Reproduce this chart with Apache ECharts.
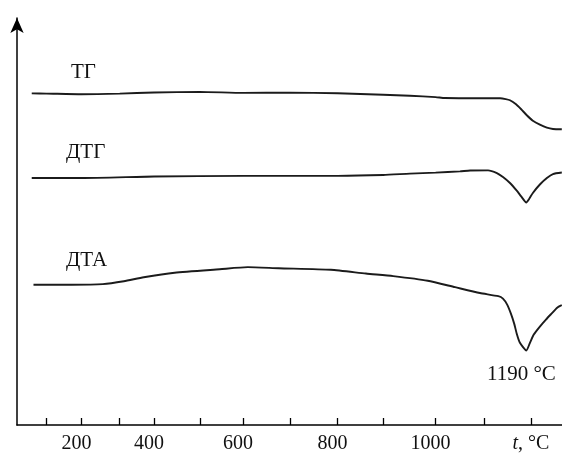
<!DOCTYPE html>
<html>
<head>
<meta charset="utf-8">
<script src="https://cdn.jsdelivr.net/npm/echarts@6/dist/echarts.min.js"></script>
<style>
  html, body { margin: 0; padding: 0; background: #fff; }
  #chart { width: 562px; height: 454px; }
</style>
</head>
<body>
<div id="chart"></div>
<script>
// Temperature axis of the original is drawn unevenly: tick temperatures and
// where each tick sits along the axis (0..100 of the axis length).
const tickTemps = [100, 200, 300, 400, 500, 600, 700, 800, 900, 1000, 1100, 1200];
const tickPos = [5.40, 11.82, 18.85, 25.15, 33.54, 41.49, 50.06, 58.82, 67.19, 76.81, 85.74, 94.31];
const labeledTemps = [200, 400, 600, 800, 1000];
const unitTemp = 1200; // "t, °C" sits on this tick

// TG curve (temperature, °C / signal, arbitrary units)
const tgTemp = [58, 100, 200, 300, 400, 500, 600, 700, 800, 900, 951, 1000, 1019, 1100, 1134, 1146, 1155, 1168, 1179, 1191, 1204, 1219, 1234, 1247, 1266];
const tgValue = [81.47, 81.43, 81.26, 81.41, 81.70, 81.85, 81.60, 81.65, 81.50, 81.14, 80.89, 80.57, 80.33, 80.28, 80.28, 80.08, 79.79, 78.81, 77.58, 76.11, 74.77, 73.79, 73.05, 72.73, 72.68];

// DTG curve
const dtgTemp = [58, 200, 400, 600, 800, 900, 951, 1000, 1050, 1071, 1108, 1127, 1140, 1155, 1170, 1179, 1190, 1196, 1204, 1219, 1234, 1247, 1266];
const dtgValue = [60.68, 60.68, 61.05, 61.22, 61.22, 61.42, 61.76, 62.00, 62.32, 62.52, 62.57, 61.91, 60.93, 59.46, 57.50, 56.15, 54.68, 55.54, 57.01, 59.09, 60.68, 61.66, 62.03];

// DTA curve
const dtaTemp = [63, 172, 256, 312, 370, 445, 546, 610, 676, 786, 862, 919, 985, 1040, 1091, 1130, 1140, 1149, 1157, 1164, 1170, 1176, 1190, 1198, 1206, 1219, 1232, 1245, 1256, 1266];
const dtaValue = [34.47, 34.47, 34.62, 35.33, 36.31, 37.41, 38.27, 38.78, 38.51, 38.14, 37.21, 36.58, 35.45, 33.86, 32.43, 31.65, 31.04, 29.57, 27.36, 24.91, 22.22, 20.26, 18.30, 20.26, 22.22, 24.18, 25.90, 27.49, 28.83, 29.45];

const curveNames = ["ТГ", "ДТГ", "ДТА"];
const peakLabel = "1190 °C";

const SERIF = "'Liberation Serif', 'DejaVu Serif', serif";
const INK = "#1b1b1b";

// piecewise mapping of temperature onto the drawn (uneven) axis
function toAxis(t) {
  let i = 0;
  if (t > tickTemps[tickTemps.length - 1]) i = tickTemps.length - 2;
  else {
    while (i < tickTemps.length - 2 && t > tickTemps[i + 1]) i++;
  }
  const k = (tickPos[i + 1] - tickPos[i]) / (tickTemps[i + 1] - tickTemps[i]);
  return tickPos[i] + (t - tickTemps[i]) * k;
}

function tempAt(pos) {
  let best = 0;
  tickPos.forEach((p, i) => { if (Math.abs(p - pos) < Math.abs(tickPos[best] - pos)) best = i; });
  return tickTemps[best];
}

function curve(temps, values) {
  return temps.map((t, i) => [toAxis(t), values[i]]);
}

const chart = echarts.init(document.getElementById("chart"));

const labelPos = labeledTemps.concat([unitTemp]).map(toAxis);

chart.setOption({
  animation: false,
  grid: { left: 17, right: 0, top: 18, bottom: 28 },
  xAxis: {
    type: "value",
    min: 0,
    max: 100,
    splitLine: { show: false },
    axisLine: { lineStyle: { color: "#000", width: 1.5 } },
    axisTick: {
      show: true,
      inside: true,
      length: 7,
      customValues: tickPos,
      lineStyle: { color: "#000", width: 1.3 }
    },
    axisLabel: {
      customValues: labelPos,
      margin: 9,
      fontFamily: SERIF,
      fontSize: 20,
      color: "#111",
      formatter: (v) => {
        const t = tempAt(v);
        if (t === unitTemp) return "{it|t}{rest|, °C}";
        return "{n|" + t + "}";
      },
      rich: {
        n: { fontFamily: SERIF, fontSize: 20, color: "#111", padding: [0, 10, 0, 0] },
        it: { fontFamily: SERIF, fontSize: 20, color: "#111", fontStyle: "italic" },
        rest: { fontFamily: SERIF, fontSize: 20, color: "#111" }
      }
    }
  },
  yAxis: {
    type: "value",
    min: 0,
    max: 100,
    splitLine: { show: false },
    axisTick: { show: false },
    axisLabel: { show: false },
    axisLine: {
      show: true,
      symbol: ["none", "arrow"],
      symbolSize: [10, 15],
      lineStyle: { color: "#000", width: 1.5 }
    }
  },
  series: [
    { name: curveNames[0], data: curve(tgTemp, tgValue) },
    { name: curveNames[1], data: curve(dtgTemp, dtgValue) },
    { name: curveNames[2], data: curve(dtaTemp, dtaValue) }
  ].map((s) => Object.assign({
    type: "line",
    showSymbol: false,
    smooth: 0.2,
    lineStyle: { color: INK, width: 1.9 }
  }, s)),
  graphic: [
    { type: "text", left: 71, top: 62, style: { text: curveNames[0], font: "21px " + SERIF, fill: "#111" } },
    { type: "text", left: 66, top: 142, style: { text: curveNames[1], font: "21px " + SERIF, fill: "#111" } },
    { type: "text", left: 66, top: 250, style: { text: curveNames[2], font: "21px " + SERIF, fill: "#111" } },
    { type: "text", left: 487, top: 364, style: { text: peakLabel, font: "21px " + SERIF, fill: "#111" } }
  ]
});
</script>
</body>
</html>
